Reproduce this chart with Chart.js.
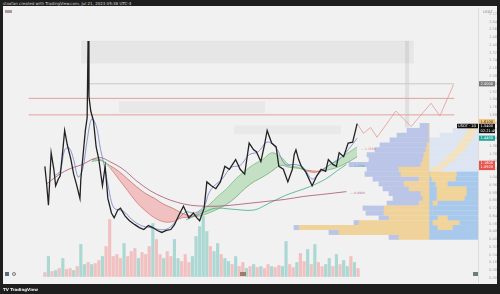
<!DOCTYPE html>
<html lang="en">
<head>
<meta charset="UTF-8">
<title>chart</title>
<script src="https://cdn.jsdelivr.net/npm/chart.js@4.4.0/dist/chart.umd.min.js"></script>
<style>
	body,html{margin:0;padding:0;background:#1e1e1e;width:500px;height:294px;overflow:hidden;}
	#top{position:absolute;left:3px;top:1px;font:4px 'DejaVu Sans',sans-serif;color:#d8d8d8;white-space:nowrap;}
	#wrap{position:absolute;left:3px;top:6px;width:494px;height:278px;background:#f1f1f1;}
	#bottom{position:absolute;left:3px;top:287px;font:bold 4px 'DejaVu Sans',sans-serif;color:#eee;white-space:nowrap;}
	.ic{position:absolute;}
</style>
</head>
<body>
<div id="top">stoxfan created with TradingView.com, Jul 21, 2023 05:38 UTC-4</div>
<div id="wrap">
	<canvas id="c" width="494" height="278"></canvas>
	<div class="ic" style="left:2px;top:4px;width:7px;height:3px;background:#a99aa4;"></div>
	<div class="ic" style="left:480px;top:4px;font:3.5px 'DejaVu Sans';color:#888;">USDT</div>
	<div class="ic" style="left:2px;top:266px;width:4px;height:4px;background:#5c6b78;"></div>
	<div class="ic" style="left:9px;top:266px;width:4px;height:4px;border:0.5px solid #777;border-radius:2px;box-sizing:border-box;"></div>
	<div class="ic" style="left:237px;top:266px;width:6px;height:4px;background:#9e7c6c;"></div>
	<div class="ic" style="left:470px;top:266px;width:5px;height:4px;background:#6d7d77;"></div>
</div>
<div id="bottom">TV TradingView</div>
<script>
// price path (bar number / close)
var priceBars = [18,20,22,25,28,30,33,35,38,40,43,47,50,53,57,58,61,63,65,66,67,69,72,75,78,82,85,88,92,95,99,102,107,112,118,123,128,133,138,143,148,153,158,162,167,172,175,178,183,187,190,195,198,203,208,213,218,223,230,235,240,245,250,253,258,262,265,270,275,278,283,288,293,295,297,300,303,308,313,315,320,325,330,333,338,342,345,350,355,360,365];
var priceClose = [1.15,0.97,0.75,1.29,1.12,0.95,1.02,1.05,1.32,1.52,1.37,1.22,1.07,0.97,0.82,1.02,1.32,1.52,1.65,2.44,1.87,1.72,1.62,1.35,1.22,0.95,1.15,0.82,0.67,0.62,0.70,0.72,0.64,0.59,0.55,0.52,0.50,0.54,0.52,0.49,0.47,0.49,0.50,0.55,0.65,0.74,0.68,0.62,0.67,0.62,0.59,0.72,0.99,0.95,0.92,0.99,1.15,1.12,1.22,1.12,1.07,1.39,1.32,1.30,1.20,1.37,1.52,1.39,1.35,1.15,1.12,0.99,1.12,1.27,1.32,1.22,1.15,1.09,0.99,0.95,1.05,1.12,1.10,1.22,1.17,1.15,1.29,1.25,1.39,1.40,1.59];

// moving averages
var emaBars = [28,35,40,45,50,55,60,65,70,75,80,85,90,95,105,115,125,135,145,155,165,175,185,195,200,205,215,225,235,245,255,265,275,285,295,305,315,325,335,345,355,365];
var emaVals = [1.05,1.10,1.32,1.34,1.22,1.04,1.12,1.42,1.64,1.57,1.32,1.12,0.87,0.72,0.69,0.60,0.54,0.52,0.50,0.51,0.60,0.68,0.67,0.74,0.87,0.94,1.02,1.14,1.16,1.27,1.30,1.40,1.34,1.17,1.17,1.14,1.02,1.10,1.17,1.22,1.32,1.44];
var ribbonBars = [70,80,90,100,110,120,130,140,150,160,170,180,190,200,210,220,230,240,250,260,270,280,290,300,310,320,330,340,350,360,365];
var fastVals = [1.22,1.22,1.14,1.02,0.90,0.78,0.69,0.62,0.58,0.58,0.62,0.63,0.68,0.75,0.84,0.92,1.02,1.10,1.17,1.22,1.29,1.25,1.16,1.14,1.10,1.09,1.14,1.20,1.26,1.32,1.35];
var slowVals = [1.20,1.21,1.16,1.10,1.02,0.94,0.87,0.82,0.76,0.72,0.67,0.64,0.64,0.67,0.71,0.76,0.83,0.92,0.99,1.04,1.10,1.16,1.14,1.13,1.11,1.10,1.11,1.13,1.17,1.22,1.25];
var tealBars = [175,195,208,225,250,265,285,312,330,342,353];
var tealVals = [0.60,0.68,0.72,0.71,0.70,0.76,0.85,0.94,1.02,1.10,1.17];
var maroonBars = [20,30,40,50,60,70,80,90,105,120,135,150,165,180,195,210,225,245,265,285,305,325,353];
var maroonVals = [0.97,1.04,1.10,1.14,1.17,1.22,1.24,1.20,1.12,1.00,0.90,0.83,0.78,0.75,0.74,0.74,0.75,0.77,0.79,0.81,0.84,0.86,0.89];

// projected path
var projBars = [365,372,380,387,398,408,425,447,457,472];
var projVals = [1.59,1.49,1.55,1.45,1.59,1.72,1.56,1.80,1.67,1.99];

// volume, one bar every 4
var volStart = 18, volStep = 4;
var volumes = [4,20,5,6,8,18,7,8,6,10,32,12,14,12,13,16,20,30,57,20,22,18,33,20,25,28,18,24,22,30,53,37,22,18,25,20,37,18,15,22,14,20,40,50,60,45,30,25,33,22,18,15,12,20,10,14,8,10,12,9,10,8,12,10,9,11,10,35,12,9,14,23,15,27,12,32,14,10,12,18,10,22,12,16,10,20,14,8];
var volUp = [0,1,0,1,0,1,0,0,1,0, 1,1,0,1,0,0,1,0,0,0, 0,0,1,0,0,0,1,0,0,0, 1,0,0,1,0,0,1,1,0,0, 0,1,1,1,1,1,0,1,1,0, 1,1,0,1,0,0,1,0,1,0, 1,0,0,1,0,0,1,1,0,0, 1,0,0,1,0,1,0,0,1,1, 0,1,0,1,1,0,1,0];

// volume profile rows
var profLevels = [1.57,1.52,1.47,1.42,1.37,1.32,1.27,1.22,1.17,1.12,1.07,1.02,0.97,0.92,0.87,0.82,0.77,0.72,0.67,0.62,0.57,0.52,0.47,0.42];
var lpYellow = [0,0,0,0,2,3,5,6,8,30,28,10,25,20,8,6,10,45,45,40,70,130,90,30];
var lpBlue = [9,22,32,39,47,51,57,54,72,32,36,46,25,26,32,30,32,21,18,10,5,5,10,10];
var rpIn = [0,2,4,6,10,13,18,23,29,36,21,22,30,11,11,13,40,45,45,30,18,25,40,49];
var rpYellow = [8,8,9,10,10,10,10,10,10,10,27,24,12,30,30,28,5,0,0,10,27,15,0,0];
var rpOut = [8,15,25,33,29,26,21,16,10,3,1,3,7,8,8,8,4,4,4,9,4,9,9,0];

// drawn zones and levels
var boxFrom = [58,100,228,418];
var boxTo = [428,263,347,423];
var boxHigh = [2.44,1.82,1.57,2.44];
var boxLow = [2.21,1.70,1.48,1.55];
var levels = [2.00,1.85,1.68];
var levelFrom = [67,0,0];
var tagValues = [2.00,1.61,1.54,1.44,1.16];

var LEFT_ANCHOR = 49;
var pts = function(xs, ys){ return xs.map(function(x,i){ return {x:x, y:ys[i]}; }); };

var datasets = [];
var boxFill = ['rgba(0,0,0,0.045)','rgba(0,0,0,0.035)','rgba(0,0,0,0.03)','rgba(0,0,0,0.07)'];
boxFrom.forEach(function(b,i){
	datasets.push({type:'line', xAxisID:'x', yAxisID:'y', data:[{x:b,y:boxHigh[i]},{x:boxTo[i],y:boxHigh[i]}], fill:{value:boxLow[i]},
		backgroundColor:boxFill[i], borderColor:'rgba(0,0,0,0.06)', borderWidth:i==0?0.6:0, pointRadius:0, order:100});
});
var levelColor = ['#c9c9c9','#dfa39c','#dfa39c'];
levels.forEach(function(v,i){
	datasets.push({type:'line', xAxisID:'x', yAxisID:'y', data:[{x:levelFrom[i],y:v},{x:473,y:v}], borderColor:levelColor[i], borderWidth:1, pointRadius:0, fill:false, order:70});
});

// profiles
var profRow = {type:'bar', indexAxis:'y', xAxisID:'xp', yAxisID:'y', barThickness:4.4, grouped:false, order:90};
function prof(starts, widths, color){
	return Object.assign({}, profRow, {
		data: profLevels.map(function(p,i){ return {y:p, x:[starts[i], starts[i]+widths[i]]}; }),
		backgroundColor: color
	});
}
var zeros = profLevels.map(function(){ return 0; });
var lpAnchor = profLevels.map(function(){ return LEFT_ANCHOR; });
var lpBlueStart = lpYellow.map(function(v){ return LEFT_ANCHOR+v; });
var rpYelStart = rpIn.slice();
var rpOutStart = rpIn.map(function(v,i){ return v+rpYellow[i]; });
var rpBlueCol = profLevels.map(function(p){ return p>=1.12 ? '#dde5f2' : '#a9c9ec'; });
var rpYelCol = profLevels.map(function(p){ return p>=1.12 ? '#f3e2bd' : '#f0d49a'; });
datasets.push(prof(lpAnchor, lpYellow, '#efd39b'));
datasets.push(prof(lpBlueStart, lpBlue, '#bac5e7'));
datasets.push(prof(zeros, rpIn, rpBlueCol));
datasets.push(prof(rpYelStart, rpYellow, rpYelCol));
datasets.push(prof(rpOutStart, rpOut, rpBlueCol));

// volume
datasets.push({type:'bar', xAxisID:'x', yAxisID:'yv', barThickness:2.5, grouped:false, order:80,
	data: volumes.map(function(v,i){ return {x:volStart+i*volStep, y:v}; }),
	backgroundColor: volUp.map(function(u){ return u ? 'rgba(38,166,154,0.34)' : 'rgba(239,83,80,0.3)'; })});

// lines
function line(xs, ys, color, w, extra){
	return Object.assign({type:'line', xAxisID:'x', yAxisID:'y', data:pts(xs,ys), borderColor:color, borderWidth:w, pointRadius:0, fill:false, tension:0.35, order:20}, extra||{});
}
datasets.push(line(maroonBars, maroonVals, '#a85470', 0.8, {endLabel:true}));
datasets.push(line(tealBars, tealVals, '#3fae86', 0.8, {endLabel:true}));
datasets.push(line(ribbonBars, fastVals, '#d86a66', 0.7, {
	fill:{target:'+1', above:'rgba(76,175,80,0.28)', below:'rgba(239,83,80,0.30)'},
	segment:{borderColor:function(c){ return fastVals[c.p0DataIndex] >= slowVals[c.p0DataIndex] ? '#6dbb70' : '#d86a66'; }},
	endLabel:true}));
datasets.push(line(ribbonBars, slowVals, '#d98a6e', 0.7, {
	segment:{borderColor:function(c){ return fastVals[c.p0DataIndex] >= slowVals[c.p0DataIndex] ? '#5fae6b' : '#c9605b'; }}}));
datasets.push(line(emaBars, emaVals, '#7281c6', 0.8, {order:15}));
datasets.push(line(projBars, projVals, '#e39b95', 0.8, {tension:0, order:12}));
datasets.push(line(priceBars, priceClose, '#222', 1.3, {tension:0, order:10}));

var tagStyle = [
	{bg:'#7a7a7a', fg:'#fff', lines:['2.0000']},
	{bg:'#f2c27a', fg:'#333', lines:['1.6100']},
	{bg:'#111', fg:'#fff', lines:['1.5400','02:21:49'], ticker:'USDT · 1D'},
	{bg:'#26a69a', fg:'#fff', lines:['1.4400']},
	{bg:'#e5534f', fg:'#fff', lines:['1.1600','1.0920']}
];

var tags = {
	id:'tags',
	afterDraw:function(chart){
		var ctx = chart.ctx, ys = chart.scales.y, a = chart.chartArea;
		ctx.save();
		ctx.textBaseline = 'middle';
		ctx.font = '3px "DejaVu Sans"';
		ctx.globalAlpha = 0.8;
		chart.data.datasets.forEach(function(ds,i){
			if(!ds.endLabel) return;
			var m = chart.getDatasetMeta(i), p = m.data[m.data.length-1];
			ctx.fillStyle = ds.borderColor;
			ctx.fillText('— ' + ds.data[ds.data.length-1].y.toFixed(4), p.x+4, p.y+2);
		});
		ctx.globalAlpha = 1;
		ctx.font = '3.6px "DejaVu Sans"';
		tagValues.forEach(function(v,i){
			var t = tagStyle[i], py = ys.getPixelForValue(v), h = t.lines.length*4.2+1;
			ctx.fillStyle = t.bg;
			ctx.fillRect(a.right+1, py-h/2, 16, h);
			if(t.ticker){
				ctx.fillRect(a.right-21, py-h/2, 21, 4.5);
				ctx.fillStyle = t.fg;
				ctx.fillText(t.ticker, a.right-20, py-h/2+2.3);
			}
			ctx.fillStyle = t.fg;
			t.lines.forEach(function(s,k){ ctx.fillText(s, a.right+2.5, py-h/2+2.6+k*4.2); });
		});
		ctx.restore();
	}
};

new Chart(document.getElementById('c'), {
	type:'line',
	data:{datasets:datasets},
	options:{
		responsive:false,
		animation:false,
		devicePixelRatio:1,
		layout:{padding:{left:2,top:2,bottom:2,right:0}},
		plugins:{legend:{display:false}, tooltip:{enabled:false}},
		scales:{
			x:{type:'linear', display:false, min:0, max:473},
			y:{type:'linear', position:'right', min:0, max:2.74,
				grid:{display:false}, border:{color:'#dcdcdc'},
				ticks:{stepSize:0.08, includeBounds:false, color:'#aaa', font:{size:3.6, family:'DejaVu Sans'}, padding:3,
					callback:function(v){ return v.toFixed(4); }},
				afterFit:function(s){ s.width = 19; s.paddingTop = 0; s.paddingBottom = 0; }},
			xp:{type:'linear', display:false, reverse:true, min:0, max:473},
			yv:{type:'linear', display:false, min:-5.5, max:268.5}
		}
	},
	plugins:[tags]
});
</script>
</body>
</html>
